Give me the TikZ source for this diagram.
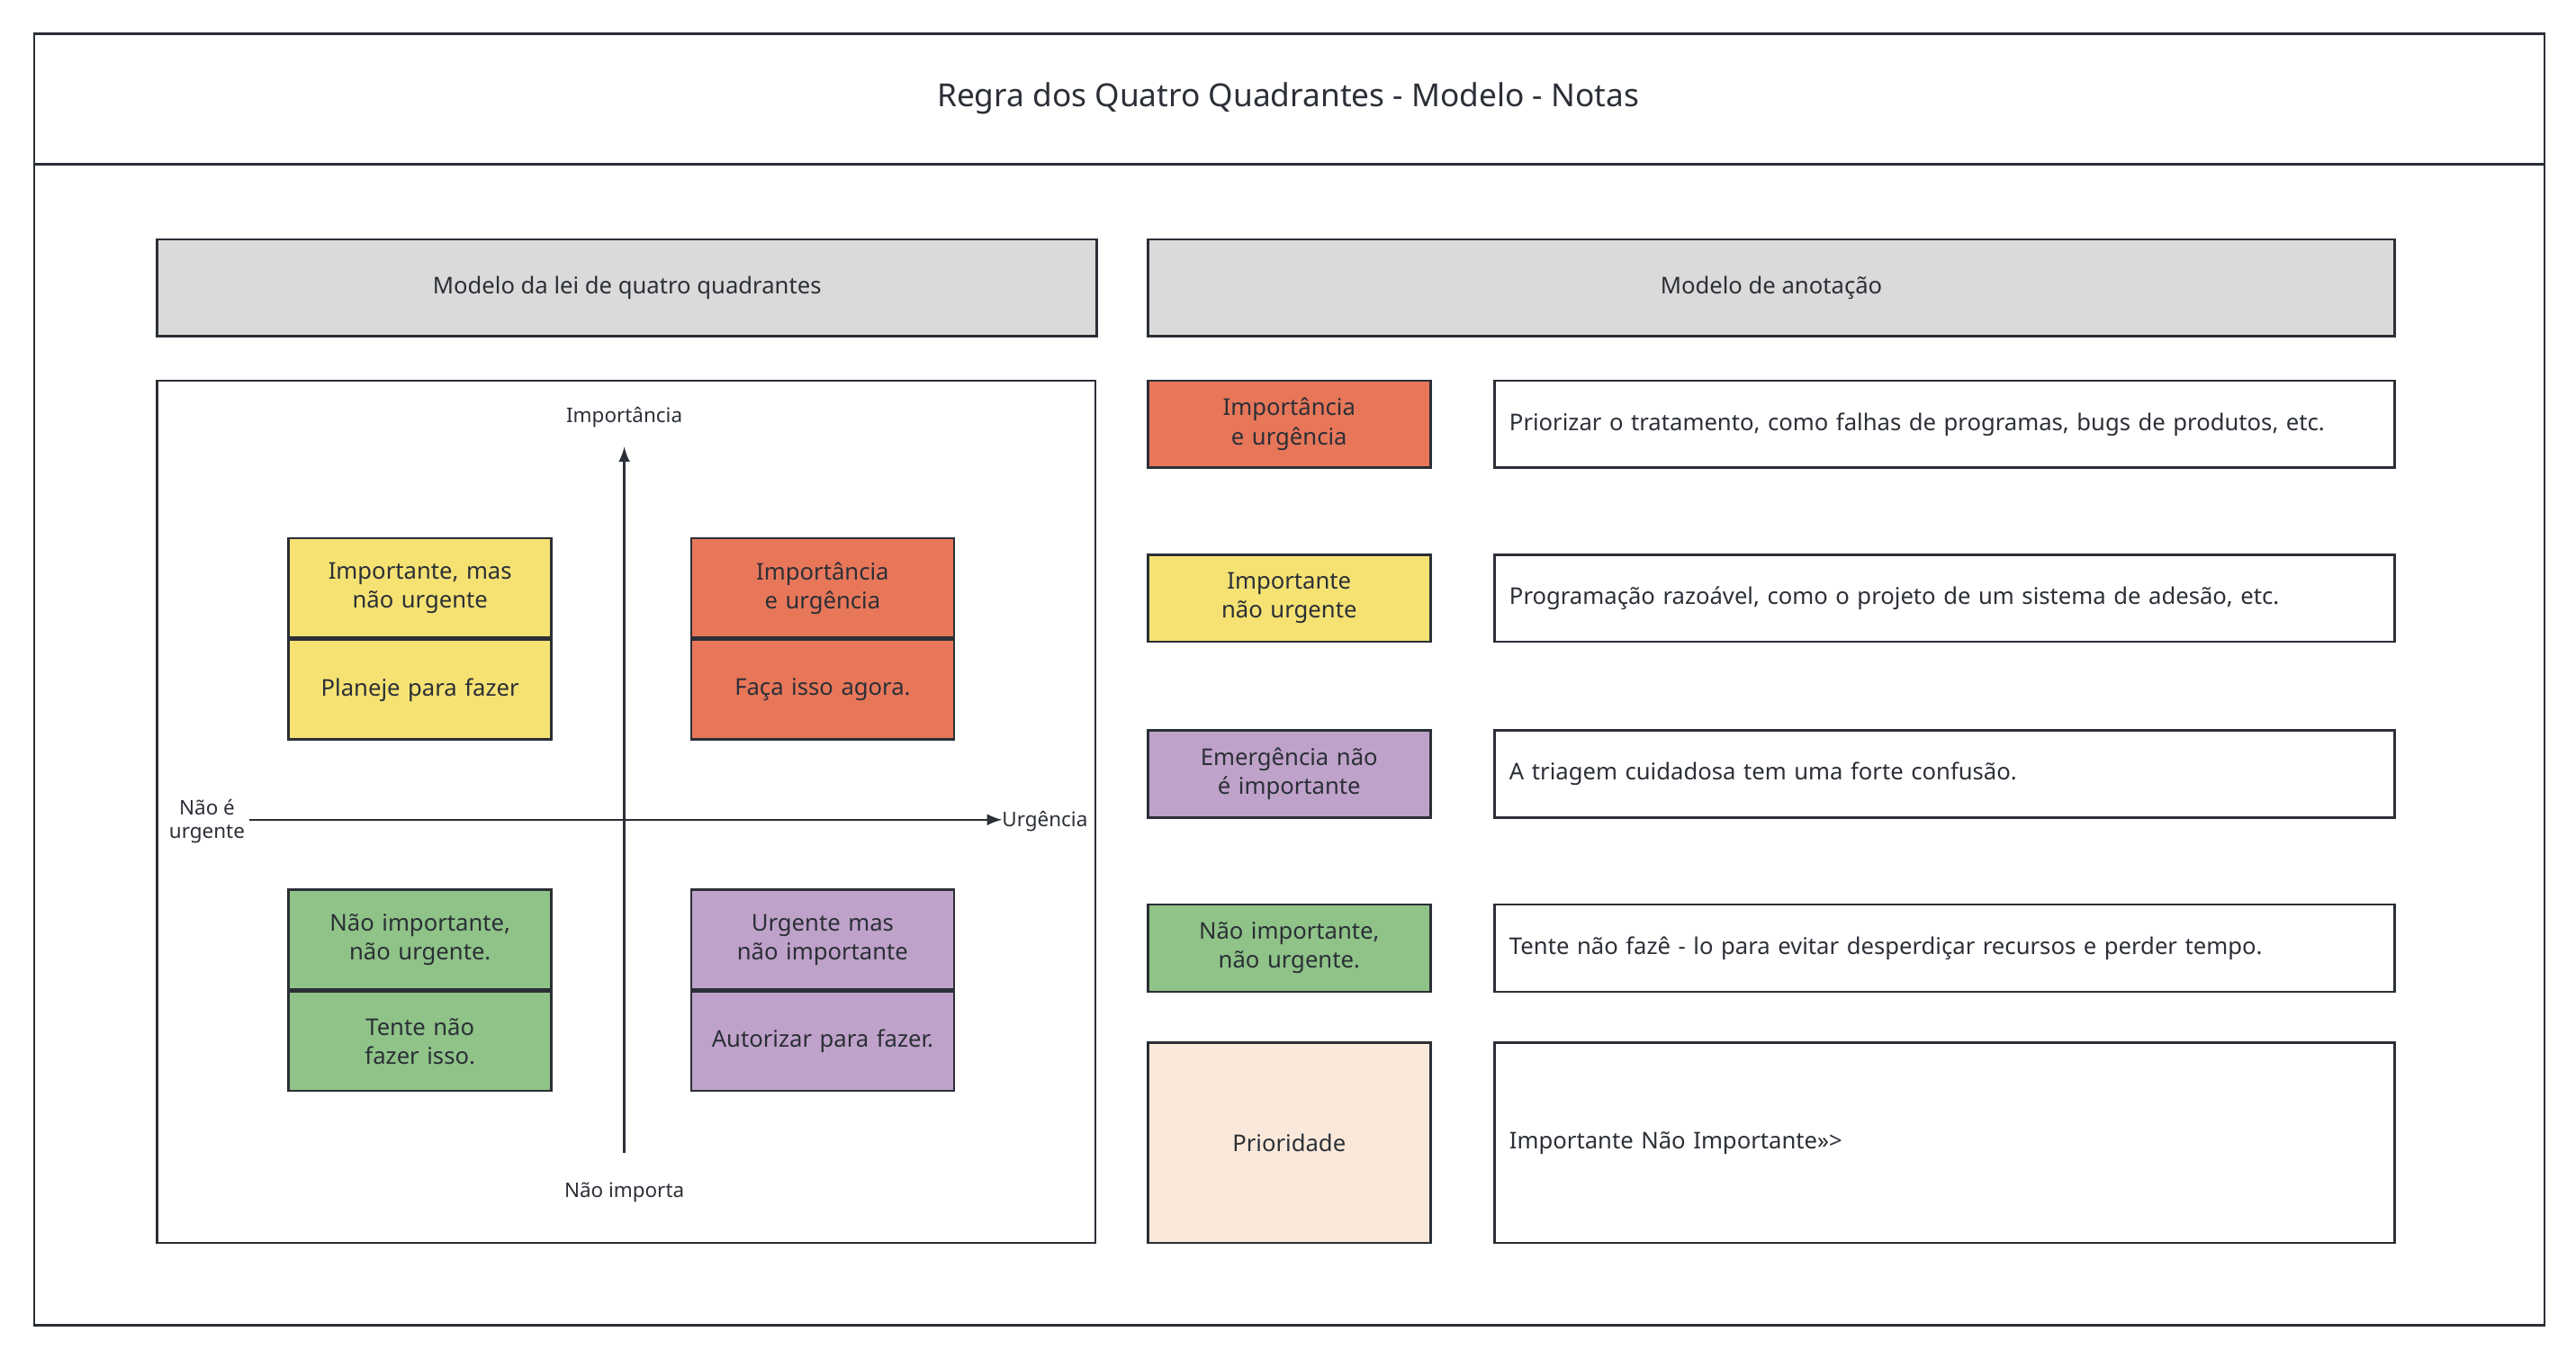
\documentclass[tikz,border=0pt]{standalone}
\usepackage{fontspec}
\setmainfont{Noto Sans}
\usetikzlibrary{positioning}
\definecolor{edge}{HTML}{2B2F36}
\definecolor{hdr}{HTML}{DADADA}
\definecolor{qred}{HTML}{E8775A}
\definecolor{qyellow}{HTML}{F5E273}
\definecolor{qpurple}{HTML}{BFA2CA}
\definecolor{qgreen}{HTML}{8FC388}
\definecolor{qpeach}{HTML}{FAE9DA}
\begin{document}
\begin{tikzpicture}[x=0.02cm, y=-0.02cm,
    every node/.style = {font=\fontsize{8}{10}\selectfont, text=edge},
    cell/.style 2 args = {draw=edge, line width=0.8pt, rectangle, anchor=north west,
      minimum width=#1*0.02cm, minimum height=#2*0.02cm, inner sep=0pt},
    quad/.style = {cell={160}{60.5}, font=\fontsize{8}{10}\selectfont\bfseries,
      text width=2.7cm, align=center},
    tag/.style = {cell={172}{53}, font=\fontsize{8}{10}\selectfont\bfseries,
      text width=2.9cm, align=center},
    note/.style = {cell={548}{53}, text width=10.6cm, align=left},
    axis/.style = {font=\fontsize{7}{8}\selectfont\bfseries, align=center}
  ]
  \useasboundingbox (0,0) rectangle (1568,827);
  % frame and title
  \node [cell={1528}{786}] (frame) at (20,20) {};
  \draw [edge, line width=0.8pt] (20,100) -- (1548,100);
  \node [font=\fontsize{11}{13}\selectfont\bfseries] (title) at (784,60)
    {Regra dos Quatro Quadrantes - Modelo - Notas};

  % headers
  \node [cell={572}{59}, fill=hdr, font=\fontsize{8}{10}\selectfont\bfseries] (head left)
    at (95,145) {Modelo da lei de quatro quadrantes};
  \node [cell={759}{59}, fill=hdr, font=\fontsize{8}{10}\selectfont\bfseries] (head right)
    at (698,145) {Modelo de anotação};

  % left panel
  \node [cell={571}{525}] (panel) at (95,231) {};
  \node [axis] (imp)    at (380,254) {Importância};
  \node [axis] (notimp) at (380,726) {Não importa};
  \node [axis] (noturg) at (126,500) {Não é\\urgente};
  \node [axis] (urg)    at (636,500) {Urgência};
  \coordinate (v top) at (380,272);
  \coordinate (v bot) at (380,702);
  \coordinate (h left) at (152,499);
  \coordinate (h right) at (610,499);
  \draw [-latex, edge, line width=0.8pt] (v bot) -- (v top);
  \draw [-latex, edge, line width=0.8pt] (h left) -- (h right);

  \node [quad, fill=qyellow] (tl top) at (175,327) {Importante, mas não urgente};
  \node [quad, fill=qyellow, below=0pt of tl top] (tl bot) {Planeje para fazer};
  \node [quad, fill=qred] (tr top) at (420,327) {Importância e urgência};
  \node [quad, fill=qred, below=0pt of tr top] (tr bot) {Faça isso agora.};
  \node [quad, fill=qgreen] (bl top) at (175,541) {Não importante, não urgente.};
  \node [quad, fill=qgreen, below=0pt of bl top] (bl bot) {Tente não fazer isso.};
  \node [quad, fill=qpurple] (br top) at (420,541) {Urgente mas não importante};
  \node [quad, fill=qpurple, below=0pt of br top] (br bot) {Autorizar para fazer.};

  % notes
  \node [tag, fill=qred]    (tag 1) at (698,231) {Importância e urgência};
  \node [tag, fill=qyellow] (tag 2) at (698,337) {Importante não urgente};
  \node [tag, fill=qpurple] (tag 3) at (698,444) {Emergência não é importante};
  \node [tag, fill=qgreen]  (tag 4) at (698,550) {Não importante, não urgente.};
  \node [tag, fill=qpeach, minimum height=122*0.02cm] (tag 5) at (698,634) {Prioridade};

  \node [note, font=\fontsize{8}{10}\selectfont\bfseries] (note 1) at (909,231)
    {Priorizar o tratamento, como falhas de programas, bugs de produtos, etc.};
  \node [note] (note 2) at (909,337) {Programação razoável, como o projeto de um sistema de adesão, etc.};
  \node [note] (note 3) at (909,444) {A triagem cuidadosa tem uma forte confusão.};
  \node [note] (note 4) at (909,550) {Tente não fazê - lo para evitar desperdiçar recursos e perder tempo.};
  \node [note, minimum height=122*0.02cm] (note 5) at (909,634) {Importante Não Importante>>>};
\end{tikzpicture}
\end{document}
